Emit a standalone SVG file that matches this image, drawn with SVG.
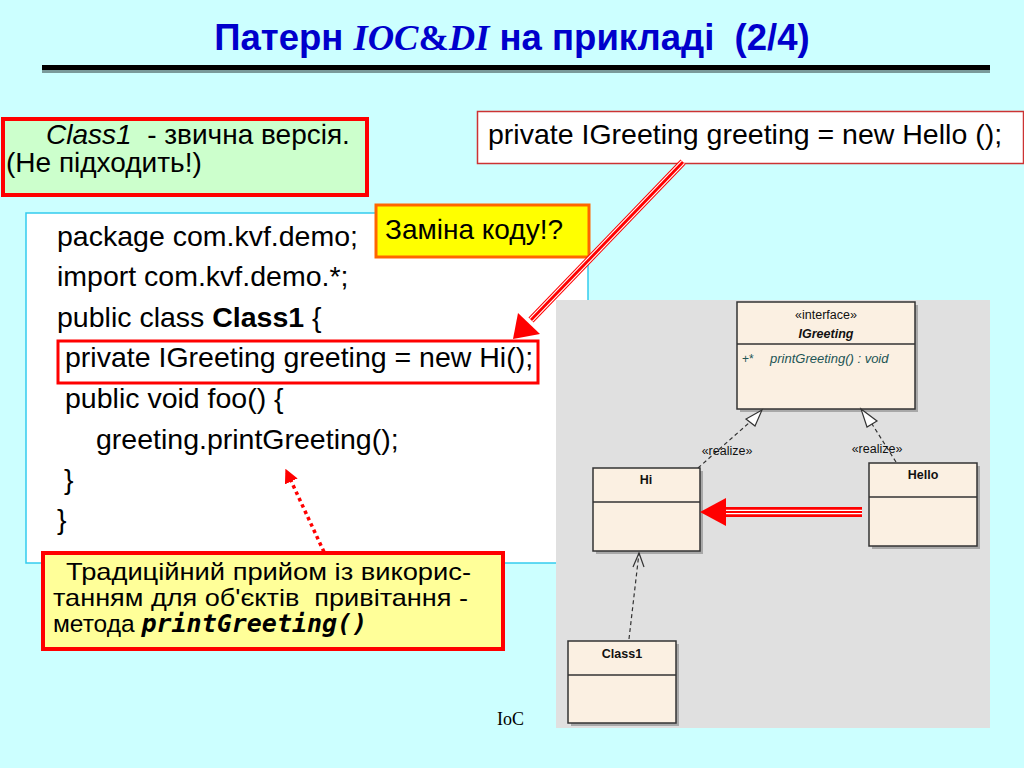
<svg xmlns="http://www.w3.org/2000/svg" width="1024" height="768" viewBox="0 0 1024 768">
<defs>
<style>
.sans{font-family:"Liberation Sans",Arial,sans-serif;}
.code{font-family:"Liberation Sans",Arial,sans-serif;font-size:28.5px;fill:#000;}
.uml{fill:#FBF0E2;stroke:#333;stroke-width:1.5;}
.shadow{fill:#A8A8A8;}
.umlt{font-family:"Liberation Sans",Arial,sans-serif;font-size:12.5px;fill:#111;text-anchor:middle;}
.dash{fill:none;stroke:#333;stroke-width:1.2;stroke-dasharray:4 3;}
</style>
<marker id="dotHead" viewBox="0 0 10 10" refX="9" refY="5" markerWidth="4" markerHeight="4" orient="auto" markerUnits="strokeWidth">
<path d="M0,0 L10,5 L0,10 z" fill="#FF0000"/>
</marker>
</defs>
<rect x="0" y="0" width="1024" height="768" fill="#CCFFFF"/>

<g id="title">
<text x="512" y="50" text-anchor="middle" class="sans" font-size="36.5" font-weight="bold" fill="#0000CC" xml:space="preserve">Патерн <tspan font-family="Liberation Serif,serif" font-style="italic">IOC</tspan><tspan font-family="Liberation Serif,serif">&amp;</tspan><tspan font-family="Liberation Serif,serif" font-style="italic">DI</tspan> на прикладі  (2/4)</text>
<rect x="42" y="70" width="948" height="3" fill="#7A9A9A"/>
<rect x="42" y="65" width="948" height="5" fill="#000"/>
</g>

<g id="note-class1">
<rect x="3" y="119" width="364" height="76" fill="#CCFFCC" stroke="#FF0000" stroke-width="4"/>
<text x="46" y="144" class="sans" font-size="28" xml:space="preserve"><tspan font-style="italic">Class1</tspan>  - звична версія.</text>
<text x="6" y="172" class="sans" font-size="28">(Не підходить!)</text>
</g>

<g id="note-hello">
<rect x="477.5" y="111.5" width="546" height="52" fill="#FFFFFF" stroke="#CC3333" stroke-width="1.5"/>
<text x="488" y="144" class="code">private IGreeting greeting = new Hello ();</text>
</g>

<g id="code">
<rect x="26" y="213" width="562" height="350" fill="#FFFFFF" stroke="#33CCEE" stroke-width="1.5"/>
<text x="57" y="246" class="code">package com.kvf.demo;</text>
<text x="57" y="286" class="code">import com.kvf.demo.*;</text>
<text x="57" y="327" class="code">public class <tspan font-weight="bold">Class1</tspan> {</text>
<rect x="58" y="341" width="480" height="42" fill="none" stroke="#FF0000" stroke-width="3"/>
<text x="65" y="367" class="code">private IGreeting greeting = new Hi();</text>
<text x="65" y="408" class="code">public void foo() {</text>
<text x="96" y="449" class="code">greeting.printGreeting();</text>
<text x="64" y="489" class="code">}</text>
<text x="57" y="529" class="code">}</text>
</g>

<g id="uml-panel">
<rect x="556" y="300" width="434" height="428" fill="#E0E0E0"/>
</g>

<g id="IGreeting">
<rect x="740" y="305" width="178" height="107" class="shadow"/>
<rect x="737" y="302" width="178" height="107" class="uml"/>
<line x1="737" y1="344" x2="915" y2="344" stroke="#333" stroke-width="1.5"/>
<text x="826" y="319" class="umlt" font-size="11">«interface»</text>
<text x="826" y="338" class="umlt" font-weight="bold" font-style="italic" font-size="13">IGreeting</text>
<text x="742" y="363" font-family="Liberation Sans,Arial,sans-serif" font-size="12" fill="#225555">+*</text>
<text x="770" y="363" font-family="Liberation Sans,Arial,sans-serif" font-size="13" font-style="italic" fill="#225555">printGreeting() : void</text>
</g>

<g id="Hi">
<rect x="596" y="471" width="107" height="83" class="shadow"/>
<rect x="593" y="468" width="107" height="83" class="uml"/>
<line x1="593" y1="502" x2="700" y2="502" stroke="#333" stroke-width="1.5"/>
<text x="646" y="484" class="umlt" font-weight="bold">Hi</text>
</g>

<g id="Hello">
<rect x="872" y="466" width="108" height="83" class="shadow"/>
<rect x="869" y="463" width="108" height="83" class="uml"/>
<line x1="869" y1="497" x2="977" y2="497" stroke="#333" stroke-width="1.5"/>
<text x="923" y="479" class="umlt" font-weight="bold">Hello</text>
</g>

<g id="Class1">
<rect x="571" y="644" width="108" height="82" class="shadow"/>
<rect x="568" y="641" width="108" height="82" class="uml"/>
<line x1="568" y1="675" x2="676" y2="675" stroke="#333" stroke-width="1.5"/>
<text x="622" y="658" class="umlt" font-weight="bold">Class1</text>
</g>

<g id="note-zamina">
<rect x="376" y="205" width="213" height="52" fill="#FFFF00" stroke="#FF6600" stroke-width="3"/>
<text x="385" y="239" class="sans" font-size="28">Заміна коду!?</text>
</g>

<g id="note-traditional">
<rect x="43" y="553" width="460" height="96" fill="#FFFF99" stroke="#FF0000" stroke-width="4"/>
<text x="66" y="580" class="sans" font-size="24" textLength="405" lengthAdjust="spacingAndGlyphs">Традиційний прийом із викорис-</text>
<text x="53" y="606" class="sans" font-size="24" xml:space="preserve" textLength="415" lengthAdjust="spacingAndGlyphs">танням для об'єктів  привітання -</text>
<text x="53" y="632" class="sans" font-size="24.5">метода <tspan font-family="DejaVu Sans Mono,monospace" font-weight="bold" font-style="italic" font-size="25">printGreeting()</tspan></text>
</g>

<g id="connectors">
<path class="dash" d="M698,468 L750,422"/>
<path d="M762,410 L746,419 L755,426 Z" fill="#FFFFFF" stroke="#333" stroke-width="1.2"/>
<text x="727" y="455" class="umlt" font-size="11.5">«realize»</text>
<path class="dash" d="M896,462 L872,424"/>
<path d="M861,409 L877,421 L867,427 Z" fill="#FFFFFF" stroke="#333" stroke-width="1.2"/>
<text x="877" y="453" class="umlt" font-size="11.5">«realize»</text>
<path class="dash" d="M629,639 L639,553"/>
<path d="M633,567 L639,553 L644,567" fill="none" stroke="#333" stroke-width="1.2"/>
<rect x="724" y="507" width="138" height="10" fill="#FF0000"/>
<line x1="724" y1="510.3" x2="862" y2="510.3" stroke="#FFFFFF" stroke-width="1.3"/>
<line x1="724" y1="513.7" x2="862" y2="513.7" stroke="#FFFFFF" stroke-width="1.3"/>
<path d="M700,512 L726,498 L726,526 Z" fill="#FF0000"/>
<g>
<line x1="683" y1="162" x2="531" y2="320" stroke="#FF0000" stroke-width="7"/>
<line x1="681.6" y1="160.6" x2="529.6" y2="318.6" stroke="#FFFFFF" stroke-width="1.1"/>
<line x1="684.4" y1="163.4" x2="532.4" y2="321.4" stroke="#FFFFFF" stroke-width="1.1"/>
<path d="M513,339 L518,313 L540,334 Z" fill="#FF0000"/>
</g>
<line x1="324" y1="552" x2="286" y2="470" stroke="#FF0000" stroke-width="3.5" stroke-dasharray="3.5 3.5" marker-end="url(#dotHead)"/>
</g>

<text x="497" y="725" font-family="Liberation Serif,serif" font-size="18" fill="#000">IoC</text>
</svg>
